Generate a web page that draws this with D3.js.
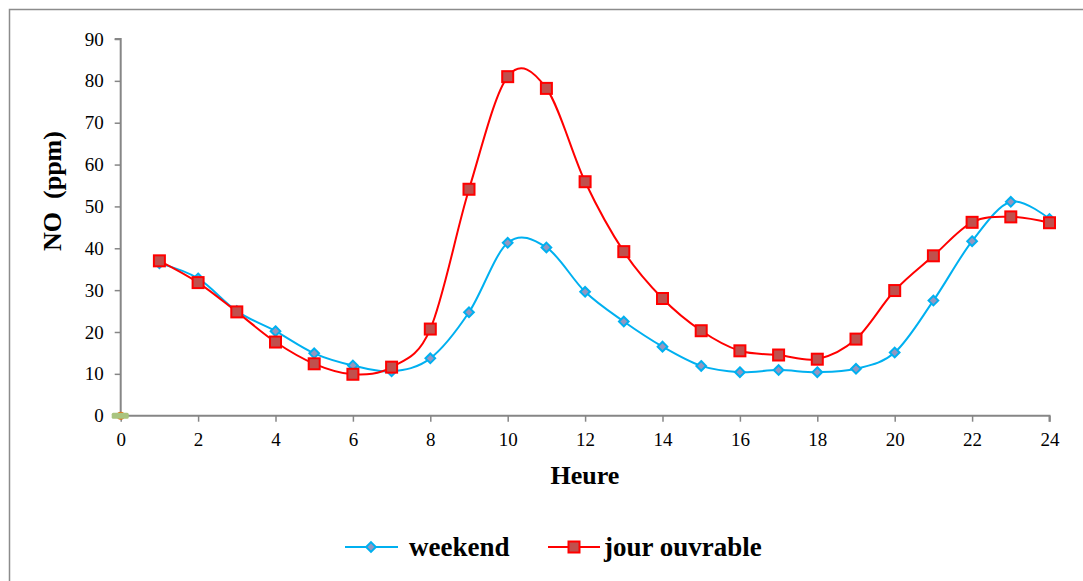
<!DOCTYPE html>
<html>
<head>
<meta charset="utf-8">
<script src="https://cdn.jsdelivr.net/npm/d3@7"></script>
<style>
  html, body { margin: 0; padding: 0; background: #fff; }
  svg { display: block; }
  svg text { font-family: "Liberation Serif", "Times New Roman", serif; }
</style>
</head>
<body>
<svg id="chart" width="1083" height="581"></svg>
<script>
// Hourly NO concentration (ppm)
const hours = [1, 2, 3, 4, 5, 6, 7, 8, 9, 10, 11, 12, 13, 14, 15, 16, 17, 18, 19, 20, 21, 22, 23, 24];
const weekend = [36.4, 32.8, 25.0, 20.2, 14.9, 12.0, 10.6, 13.7, 24.7, 41.3, 40.2, 29.6, 22.5, 16.5, 11.9, 10.4, 10.9, 10.4, 11.2, 15.1, 27.5, 41.7, 51.1, 47.0];
const jourOuvrable = [37.0, 31.8, 24.8, 17.6, 12.4, 9.9, 11.6, 20.7, 54.1, 81.0, 78.2, 55.9, 39.2, 28.0, 20.3, 15.5, 14.5, 13.5, 18.3, 29.9, 38.2, 46.2, 47.5, 46.1];
const xTicks = [0, 2, 4, 6, 8, 10, 12, 14, 16, 18, 20, 22, 24];
const yTicks = [0, 10, 20, 30, 40, 50, 60, 70, 80, 90];
const seriesNames = ["weekend", "jour ouvrable"];

const serif = "'Liberation Serif', 'Times New Roman', serif";
const svg = d3.select("#chart");

// outer frame
svg.append("rect")
  .attr("x", 9.5).attr("y", 9.5)
  .attr("width", 1080).attr("height", 580)
  .attr("fill", "none").attr("stroke", "#8c8c8c").attr("stroke-width", 1.5);

const x = d3.scaleLinear().domain([0, 24]).range([120.7, 1049.5]);
const y = d3.scaleLinear().domain([0, 90]).range([415.7, 39]);

const axisColor = "#868686";

// y axis
const gy = svg.append("g")
  .attr("transform", `translate(${x(0)},0)`)
  .call(d3.axisLeft(y).tickValues(yTicks).tickSize(6).tickPadding(11).tickFormat(d3.format("d")));
// x axis
const gx = svg.append("g")
  .attr("transform", `translate(0,${y(0)})`)
  .call(d3.axisBottom(x).tickValues(xTicks).tickSize(6).tickPadding(11).tickFormat(d3.format("d")));

[gx, gy].forEach(g => {
  g.attr("font-family", serif).attr("font-size", 19);
  g.select(".domain").attr("stroke", axisColor).attr("stroke-width", 2);
  g.selectAll(".tick line").attr("stroke", axisColor).attr("stroke-width", 1.5);
  g.selectAll(".tick text").attr("fill", "#000");
});
gx.select(".domain").attr("d", `M${x(0)},0H${x(24)}V6`);
gy.select(".domain").attr("d", `M-6,${y(90)}H0V${y(0)}`);

// axis titles
svg.append("text")
  .attr("x", 585).attr("y", 484)
  .attr("text-anchor", "middle")
  .attr("font-family", serif).attr("font-size", 26).attr("font-weight", "bold")
  .text("Heure");
svg.append("text")
  .attr("transform", "translate(61,191) rotate(-90)")
  .attr("text-anchor", "middle")
  .attr("font-family", serif).attr("font-size", 26).attr("font-weight", "bold")
  .style("white-space", "pre")
  .text("NO  (ppm)");

const line = d3.line()
  .x((d, i) => x(hours[i]))
  .y(d => y(d))
  .curve(d3.curveCatmullRom.alpha(0));

const blue = "#00B0F0", blueFill = "#9496c0";
const red = "#FF0000", redFill = "#C0504D";

// marker at the origin
svg.append("circle").attr("cx", x(0)).attr("cy", y(0)).attr("r", 4)
  .attr("fill", "#e46c0a");
svg.append("rect")
  .attr("x", x(0) - 9).attr("y", y(0) - 3).attr("width", 17).attr("height", 6).attr("rx", 1.5)
  .attr("fill", "#a9c47f");

// weekend series
svg.append("path").datum(weekend)
  .attr("d", line).attr("fill", "none").attr("stroke", blue).attr("stroke-width", 2);
const diamond = d3.symbol().type(d3.symbolDiamond2).size(60);
svg.append("g").selectAll("path").data(weekend).join("path")
  .attr("d", diamond)
  .attr("transform", (d, i) => `translate(${x(hours[i])},${y(d)})`)
  .attr("fill", blueFill).attr("stroke", blue).attr("stroke-width", 2);

// working-day series
svg.append("path").datum(jourOuvrable)
  .attr("d", line).attr("fill", "none").attr("stroke", red).attr("stroke-width", 2);
svg.append("g").selectAll("rect").data(jourOuvrable).join("rect")
  .attr("x", (d, i) => x(hours[i]) - 5.5)
  .attr("y", d => y(d) - 5.5)
  .attr("width", 11).attr("height", 11)
  .attr("fill", redFill).attr("stroke", red).attr("stroke-width", 2);

// legend
const legY = 547;
const leg = svg.append("g").attr("font-family", serif).attr("font-size", 27).attr("font-weight", "bold");
leg.append("line").attr("x1", 345).attr("x2", 398).attr("y1", legY).attr("y2", legY)
  .attr("stroke", blue).attr("stroke-width", 2);
leg.append("path").attr("d", diamond)
  .attr("transform", `translate(371,${legY})`)
  .attr("fill", blueFill).attr("stroke", blue).attr("stroke-width", 2);
leg.append("text").attr("x", 409).attr("y", 556).text(seriesNames[0]);
leg.append("line").attr("x1", 548).attr("x2", 600).attr("y1", legY).attr("y2", legY)
  .attr("stroke", red).attr("stroke-width", 2);
leg.append("rect").attr("x", 574 - 5.5).attr("y", legY - 5.5).attr("width", 11).attr("height", 11)
  .attr("fill", redFill).attr("stroke", red).attr("stroke-width", 2);
leg.append("text").attr("x", 604).attr("y", 556).text(seriesNames[1]);
</script>
</body>
</html>
